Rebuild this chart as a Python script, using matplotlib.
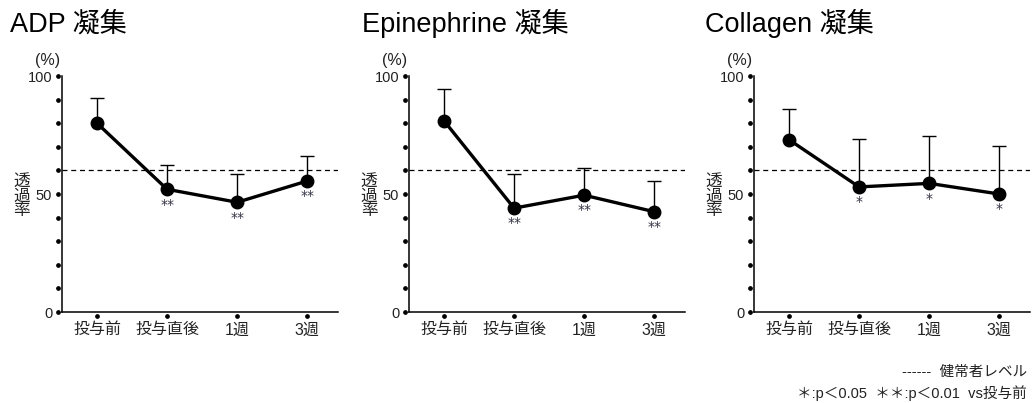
import numpy as np
import matplotlib
matplotlib.use('Agg')
import matplotlib.pyplot as plt
from matplotlib.transforms import offset_copy

plt.rcParams['font.family'] = ['Liberation Sans', 'Noto Sans CJK JP', 'DejaVu Sans']

categories = ['投与前', '投与直後', '1週', '3週']
titles = ['ADP 凝集', 'Epinephrine 凝集', 'Collagen 凝集']

adp_mean = [80, 52, 46.5, 55.5]
adp_sd = [10.5, 10.5, 12, 10.5]
epi_mean = [81, 44, 49.5, 42.5]
epi_sd = [13.5, 14.5, 11.5, 13]
col_mean = [73, 53, 54.5, 50]
col_sd = [13, 20.5, 20, 20.5]

adp_sig = ['', '**', '**', '**']
epi_sig = ['', '**', '**', '**']
col_sig = ['', '*', '*', '*']

healthy_level = 60
y_dots = list(range(0, 101, 10))
y_labels = [0, 50, 100]

means = [adp_mean, epi_mean, col_mean]
sds = [adp_sd, epi_sd, col_sd]
sigs = [adp_sig, epi_sig, col_sig]

W, H = 1032, 403
fig = plt.figure(figsize=(W / 100, H / 100), dpi=100)

lefts = [62, 409, 754]
title_x = [10, 362, 705]
txt = '#222222'

for i in range(3):
    ax = fig.add_axes([lefts[i] / W, (H - 312) / H, 276 / W, 236 / H])
    x = np.arange(len(categories))
    m = np.array(means[i])
    s = np.array(sds[i])

    ax.axhline(healthy_level, color='black', lw=0.9, ls=(0, (4, 3)), zorder=1)
    ax.vlines(x, m, m + s, color='black', lw=1, zorder=2)
    ax.plot(x, m + s, ls='none', marker='_', ms=10, mew=1, color='black', zorder=2)
    ax.plot(x, m, color='black', lw=2.4, marker='o', ms=9, zorder=3)

    for xi, yi, sg in zip(x, m, sigs[i]):
        if sg:
            ax.annotate(sg, (xi, yi), xytext=(0, -11), textcoords='offset points',
                        ha='center', va='center', fontsize=10, color='#333344',
                        family='DejaVu Sans')

    ax.set_xlim(-0.5, 3.44)
    ax.set_ylim(0, 100)
    for sp in ['top', 'right']:
        ax.spines[sp].set_visible(False)
    for sp in ['left', 'bottom']:
        ax.spines[sp].set_linewidth(1.1)

    ax.set_yticks(y_labels)
    ax.set_yticklabels([str(v) for v in y_labels], fontsize=10.5, color=txt)
    ax.set_xticks(x)
    ax.set_xticklabels(categories, fontsize=11.5, color=txt)
    ax.tick_params(axis='y', length=0, pad=7)
    ax.tick_params(axis='x', length=0, pad=7.5)

    # dot ticks
    tr_x = offset_copy(ax.transData, fig=fig, y=-4, units='dots')
    ax.plot(x, np.zeros(len(x)), ls='none', marker='o', ms=2.4, color='black',
            transform=tr_x, clip_on=False)
    tr_y = offset_copy(ax.get_yaxis_transform(), fig=fig, x=-4, units='dots')
    ax.plot(np.zeros(len(y_dots)), y_dots, ls='none', marker='o', ms=2.4,
            color='black', transform=tr_y, clip_on=False)

    fig.text(title_x[i] / W, 1 - 32 / H, titles[i], fontsize=19.5, color='black',
             ha='left', va='baseline')
    fig.text((lefts[i] - 14) / W, 1 - 61 / H, '(%)', fontsize=11.5, color=txt,
             ha='center', va='center')
    fig.text((lefts[i] - 40) / W, 1 - 196 / H, '透\n過\n率', fontsize=12,
             color=txt, ha='center', va='center', linespacing=1.0)

fig.text(1027 / W, 1 - 372 / H, '------  健常者レベル', fontsize=10.5, color=txt,
         ha='right', va='center')
fig.text(1027 / W, 1 - 393 / H, '＊:p＜0.05  ＊＊:p＜0.01  vs投与前', fontsize=10.5,
         color=txt, ha='right', va='center')

fig.savefig('out.png', dpi=100)
